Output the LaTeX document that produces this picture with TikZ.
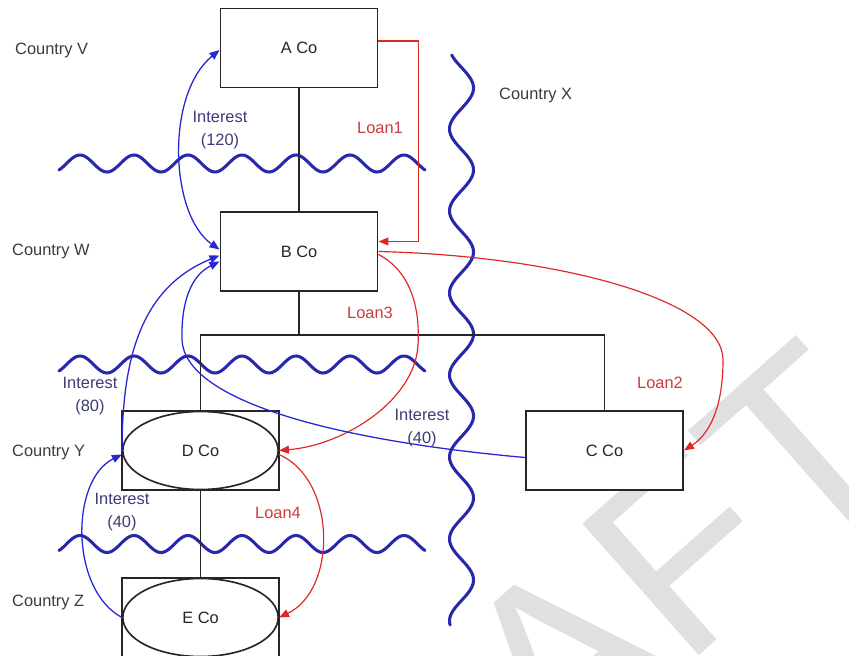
\documentclass[tikz,border=0pt]{standalone}
\usepackage{fontspec}
\setmainfont{Liberation Sans}
\usetikzlibrary{arrows.meta,shapes.geometric,calc}
\definecolor{wavecol}{RGB}{40,40,170}
\definecolor{bluecol}{RGB}{40,40,210}
\definecolor{redcol}{RGB}{222,40,40}
\definecolor{inttext}{RGB}{60,60,120}
\definecolor{loantext}{RGB}{205,60,60}
\definecolor{ctext}{RGB}{60,60,60}
\definecolor{wmcol}{RGB}{224,224,224}
\begin{document}
\begin{tikzpicture}[x=0.03cm,y=-0.03cm,
  lbl/.style={inner sep=0pt,font=\fontsize{14}{20}\selectfont,align=center},
  country/.style={lbl,anchor=west,text=ctext},
  inttxt/.style={lbl,text=inttext},
  loantxt/.style={lbl,text=loantext},
  box/.style={draw=black!85,line width=1.4pt,fill=white,minimum width=4.72cm,minimum height=2.38cm,inner sep=0pt,font=\fontsize{14}{17}\selectfont,text=black!85},
  ell/.style={ellipse,draw=black!85,line width=1.4pt,minimum width=4.66cm,minimum height=2.34cm,inner sep=0pt,font=\fontsize{14}{17}\selectfont,text=black!85},
  tree/.style={line width=1.4pt,draw=black!85},
  wave/.style={line width=2.6pt,draw=wavecol,line cap=round},
  blu/.style={line width=1.1pt,draw=bluecol,-{Triangle[length=0.3cm,width=0.24cm]}},
  blub/.style={line width=1.1pt,draw=bluecol,{Triangle[length=0.3cm,width=0.24cm]}-{Triangle[length=0.3cm,width=0.24cm]}},
  redl/.style={line width=1pt,draw=redcol,-{Triangle[length=0.3cm,width=0.24cm]}}
]
\useasboundingbox (0,0) rectangle (849,656);
\fill[white] (0,0) rectangle (849,656);
% watermark
\begin{scope}
\clip (0,0) rectangle (849,656);
\node[rotate=41.5,anchor=base west,text=wmcol,font=\fontsize{218}{218}\selectfont,inner sep=0pt] (wm) at (280,1027) {DRAFT};
\end{scope}

% waves
\draw[wave] plot[domain=59:425,samples=220,smooth] (\x,{163.5+8.5*cos(6.6667*(\x-53))});
\draw[wave] plot[domain=59:425,samples=220,smooth] (\x,{364.5+8.5*cos(6.6667*(\x-53))});
\draw[wave] plot[domain=59:425,samples=220,smooth] (\x,{544+8.5*cos(6.6667*(\x-53))});
\draw[wave] plot[domain=55:625,samples=300,smooth] ({461.5-12*cos(4.3902*(\x-47))},\x);

% nodes
\node[box] (A) at (299,48) {A Co};
\node[box] (B) at (299,251.5) {B Co};
\node[box] (C) at (604.5,450.5) {C Co};
\node[box] (D) at (200.5,450.5) {};
\node[ell] (De) at (200.5,450.5) {D Co};
\node[box] (E) at (200.5,617.5) {};
\node[ell] (Ee) at (200.5,617.5) {E Co};

% ownership tree
\coordinate (J) at (299,335);
\draw[tree] (A) -- (B);
\draw[tree] (B.south) -- (J);
\draw[tree] (D.north) -- (D.north |- J) -- (C.north |- J) -- (C.north);
\draw[tree] (D) -- (E);

% country labels
\node[country] (cv) at (15,50) {Country V};
\node[country] (cw) at (12,251) {Country W};
\node[country] (cx) at (499,95) {Country X};
\node[country] (cy) at (12,452) {Country Y};
\node[country] (cz) at (12,602) {Country Z};

% loans
\draw[redl] ($(A.east)+(0,-7)$) -- ++(40,0) |- ($(B.east)+(0,-10)$);
\draw[redl] ($(B.east)+(0,0)$) .. controls (560,256) and (723,300) .. (723,360) .. controls (723,410) and (708,435) .. (C.east);
\draw[redl] ($(B.east)+(0,3)$) .. controls (412,272) and (420,310) .. (418,345) .. controls (415,400) and (345,445) .. (De.east);
\draw[redl] ($(De.east)+(0,4)$) .. controls (337,480) and (337,590) .. (Ee.east);

% interest
\draw[blub] ($(B.west)+(0,-2)$) .. controls (170,215) and (165,95) .. ($(A.west)+(0,2)$);
\draw[blu] (C.west) ++(0,7) .. controls (330,440) and (185,400) .. (182,340) .. controls (181,300) and (192,275) .. ($(B.west)+(0,10)$);
\draw[blu] ($(De.west)+(0,1)$) .. controls (122,360) and (140,288) .. ($(B.west)+(0,4)$);
\draw[blu] (Ee.west) .. controls (70,590) and (70,480) .. ($(De.west)+(0,4)$);

% flow labels
\node[inttxt] (i120) at (220,130) {Interest\\(120)};
\node[loantxt] (l1) at (380,128) {Loan1};
\node[loantxt] (l3) at (370,313) {Loan3};
\node[inttxt] (i80) at (90,396) {Interest\\(80)};
\node[inttxt] (i40a) at (422,428) {Interest\\(40)};
\node[loantxt] (l2) at (660,383) {Loan2};
\node[inttxt] (i40b) at (122,512) {Interest\\(40)};
\node[loantxt] (l4) at (278,513) {Loan4};
\end{tikzpicture}
\end{document}
